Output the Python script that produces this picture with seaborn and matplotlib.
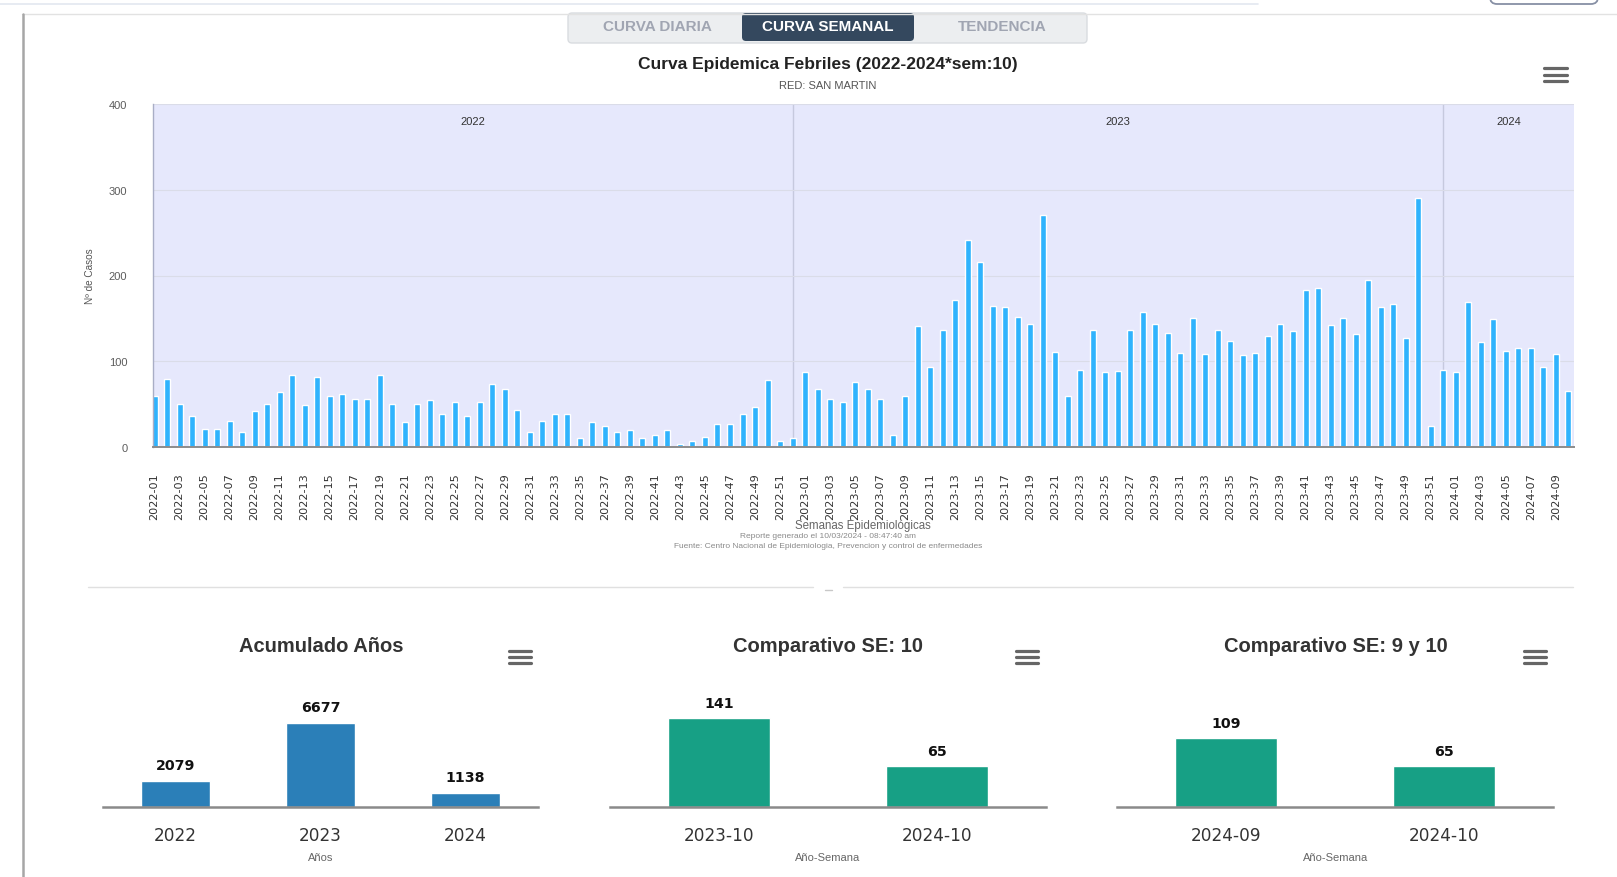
import matplotlib
matplotlib.use("Agg")
import matplotlib.pyplot as plt
from matplotlib.patches import FancyBboxPatch
import seaborn as sns
import pandas as pd

# ---------------- data ----------------
casos_2022 = [59, 79, 50, 36, 21, 21, 30, 18, 42, 50, 64, 84, 49, 82, 59, 62, 56, 56, 84, 50,
              29, 50, 55, 39, 52, 36, 52, 74, 68, 43, 17, 30, 39, 39, 11, 29, 24, 17, 20, 11,
              14, 20, 4, 7, 12, 27, 27, 39, 47, 78, 7, 10]
casos_2023 = [87, 68, 56, 53, 76, 68, 56, 14, 59, 141, 93, 136, 172, 241, 216, 164, 163, 152, 144, 270,
              111, 59, 90, 136, 87, 89, 136, 158, 144, 133, 110, 150, 109, 137, 124, 107, 110, 129, 144, 135,
              183, 186, 142, 151, 132, 195, 163, 167, 127, 290, 24, 90]
casos_2024 = [87, 169, 122, 149, 112, 116, 116, 93, 109, 65]
anios = ["2022", "2023", "2024"]

acumulado_labels = ["2022", "2023", "2024"]
acumulado_values = [2079, 6677, 1138]
comp10_labels = ["2023-10", "2024-10"]
comp10_values = [141, 65]
comp9_10_labels = ["2024-09", "2024-10"]
comp9_10_values = [109, 65]

semanas = ([f"2022-{w:02d}" for w in range(1, len(casos_2022) + 1)]
           + [f"2023-{w:02d}" for w in range(1, len(casos_2023) + 1)]
           + [f"2024-{w:02d}" for w in range(1, len(casos_2024) + 1)])
casos = casos_2022 + casos_2023 + casos_2024

# ---------------- figure ----------------
sns.set_theme(style="white")
plt.rcParams["font.family"] = ["Liberation Sans", "DejaVu Sans"]

W, H = 1617, 878
fig = plt.figure(figsize=(W / 100, H / 100), dpi=100)
fig.patch.set_facecolor("white")


def rect(x0, y0, x1, y1):
    return [x0 / W, 1 - y1 / H, (x1 - x0) / W, (y1 - y0) / H]


# ---------------- main weekly chart ----------------
ax = fig.add_axes(rect(153, 105, 1574, 448))
df = pd.DataFrame({"semana": semanas, "casos": casos})
sns.barplot(data=df, x="semana", y="casos", color="#2fb3fd", saturation=1,
            width=0.48, ax=ax)
ax.set_facecolor("#e6e8fc")
ax.set_xlim(-0.12, len(semanas) - 1 + 0.46)
ax.set_ylim(0, 400)
ax.set_yticks([0, 100, 200, 300, 400])
ax.set_yticklabels(["0", "100", "200", "300", "400"], fontsize=8, color="#5c5c5c")
ax.yaxis.grid(True, color="#dadce8", lw=0.8)
ax.xaxis.grid(False)
ax.set_axisbelow(True)
ticks = list(range(0, len(semanas), 2))
ax.set_xticks(ticks)
ax.set_xticklabels([semanas[i] for i in ticks], rotation=90, fontsize=8.1,
                   color="#333333", family="DejaVu Sans")
ax.tick_params(axis="x", length=0, pad=18)
ax.tick_params(axis="y", length=0, pad=18.5)
ax.set_xlabel("")
ax.set_ylabel("")
for s in ["top", "right"]:
    ax.spines[s].set_visible(False)
ax.spines["left"].set_color("#a9aec6")
ax.spines["left"].set_linewidth(1.0)
ax.spines["bottom"].set_color("#8c8c8c")
ax.spines["bottom"].set_linewidth(1.4)

# year bands
n22, n23 = len(casos_2022), len(casos_2023)
b1 = n22 - 1
b2 = n22 + n23 - 1
x_left, x_right = ax.get_xlim()
for b in (b1, b2):
    ax.axvline(b, color="#c6c9de", lw=1.0, zorder=0.5)
centers = [(x_left + b1) / 2, (b1 + b2) / 2, (b2 + x_right) / 2]
for c, yr in zip(centers, anios):
    ax.text(c, 0.95, yr, transform=ax.get_xaxis_transform(), ha="center",
            va="center", fontsize=8, color="#333333")


# ---------------- small charts ----------------
def small_chart(box, labels, values, color, ymax):
    a = fig.add_axes(rect(*box))
    sns.barplot(x=labels, y=values, color=color, saturation=1, width=0.47, ax=a)
    a.set_xlim(-0.5, len(labels) - 0.5)
    a.set_ylim(0, ymax)
    for i, v in enumerate(values):
        a.annotate(str(v), (i, v), xytext=(0, 6), textcoords="offset points",
                   ha="center", va="bottom", fontsize=10.2, fontweight="bold",
                   family="DejaVu Sans", color="#111111")
    for s in ["top", "right", "left"]:
        a.spines[s].set_visible(False)
    a.spines["bottom"].set_color("#8a8a8a")
    a.spines["bottom"].set_linewidth(1.8)
    a.set_yticks([])
    a.set_facecolor("none")
    a.tick_params(axis="x", length=0, pad=13.5, labelsize=12.2, labelcolor="#333333")
    for t in a.get_xticklabels():
        t.set_family("DejaVu Sans")
    a.set_xlabel("")
    a.set_ylabel("")
    return a


small_chart((103, 707, 538, 808), acumulado_labels, acumulado_values, "#2b7fb8", 8000)
small_chart((610, 707, 1046, 808), comp10_labels, comp10_values, "#17a085", 160)
small_chart((1117, 707, 1553, 808), comp9_10_labels, comp9_10_values, "#17a085", 160)

# ---------------- overlay (page decorations and texts) ----------------
ov = fig.add_axes([0, 0, 1, 1], zorder=10)
ov.set_xlim(0, W)
ov.set_ylim(H, 0)
ov.axis("off")
ov.patch.set_alpha(0)

ov.plot([0, 1258], [5, 5], color="#e3e7f0", lw=1.2)
ov.plot([22, W], [15, 15], color="#e2e2e2", lw=1)
ov.plot([23, 23], [15, H], color="#a6a6a6", lw=1.8)
ov.add_patch(FancyBboxPatch((1490, -25), 108, 30, boxstyle="round,pad=0,rounding_size=7",
                            fc="white", ec="#8790a5", lw=1.3))

# tabs
ov.add_patch(FancyBboxPatch((568, 14), 519, 30, boxstyle="round,pad=0,rounding_size=4",
                            fc="#eceef0", ec="#d9dce0", lw=1))
ov.add_patch(FancyBboxPatch((742, 14), 172, 28, boxstyle="round,pad=0,rounding_size=4",
                            fc="#34485e", ec="none"))
tab_font = dict(fontsize=11, fontweight="bold", ha="center", va="center")
ov.text(657, 27, "CURVA DIARIA", color="#a0a5b2", **tab_font)
ov.text(828, 27, "CURVA SEMANAL", color="white", **tab_font)
ov.text(1002, 27, "TENDENCIA", color="#a0a5b2", **tab_font)

# main titles
ov.text(828, 64, "Curva Epidemica Febriles (2022-2024*sem:10)", ha="center", va="center",
        fontsize=12.5, fontweight="bold", color="#222222")
ov.text(828, 86, "RED: SAN MARTIN", ha="center", va="center", fontsize=8, color="#555555")
ov.text(90, 276, "Nº de Casos", ha="center", va="center", rotation=90, fontsize=7.2,
        color="#555555")
ov.text(863, 526, "Semanas Epidemiológicas", ha="center", va="center", fontsize=8.3,
        color="#666666")
ov.text(828, 537, "Reporte generado el 10/03/2024 - 08:47:40 am", ha="center", va="center",
        fontsize=6, color="#8a8a8a")
ov.text(828, 547, "Fuente: Centro Nacional de Epidemiologia, Prevencion y control de enfermedades",
        ha="center", va="center", fontsize=6, color="#8a8a8a")


def menu(x0, x1, ys):
    for y in ys:
        ov.plot([x0, x1], [y, y], color="#666666", lw=2.3, solid_capstyle="round")


menu(1544, 1567, [69, 75.5, 82])
menu(509, 531, [652, 658, 664])
menu(1016, 1038, [652, 658, 664])
menu(1524, 1546, [652, 658, 664])

# divider
ov.plot([88, 813], [588, 588], color="#e0e0e0", lw=1)
ov.plot([843, 1573], [588, 588], color="#e0e0e0", lw=1)
ov.plot([825, 832], [591, 591], color="#c8c8c8", lw=1)

# small chart titles / axis titles
st = dict(ha="center", va="center", fontsize=14.5, fontweight="bold", color="#333333")
ov.text(321, 647, "Acumulado Años", **st)
ov.text(828, 647, "Comparativo SE: 10", **st)
ov.text(1336, 647, "Comparativo SE: 9 y 10", **st)
xt = dict(ha="center", va="center", fontsize=8, color="#666666")
ov.text(321, 858, "Años", **xt)
ov.text(828, 858, "Año-Semana", **xt)
ov.text(1336, 858, "Año-Semana", **xt)

fig.savefig("out.png", dpi=100, facecolor="white")
